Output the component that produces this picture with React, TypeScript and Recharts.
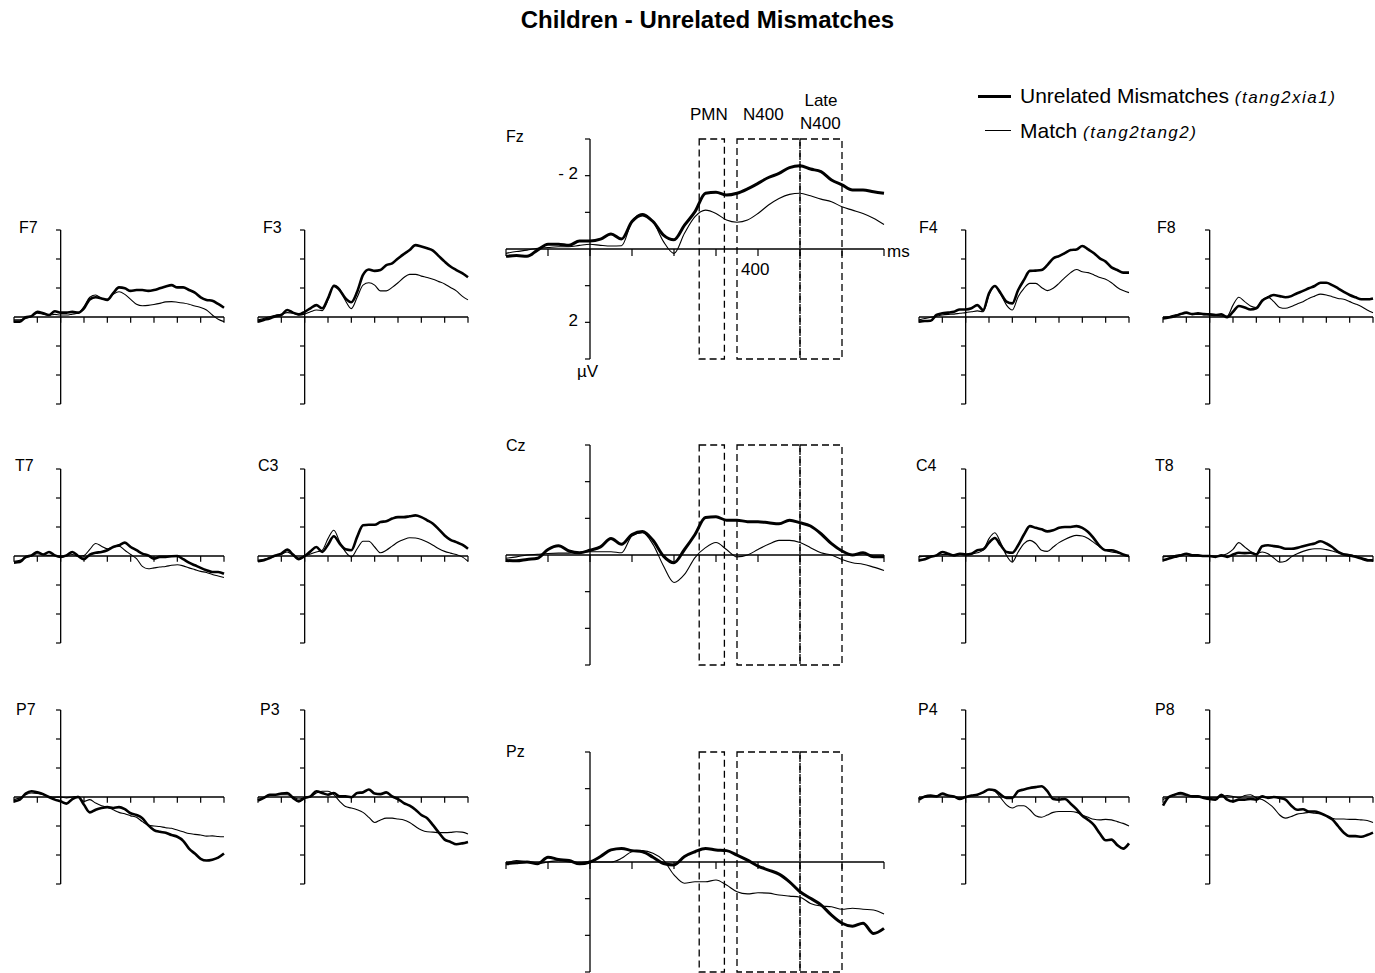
import { LineChart, Line, XAxis, YAxis, ReferenceLine, ReferenceArea } from "recharts";

// time points (ms)
const times = [
  -200, -175, -150, -125, -100, -75, -50, -25, 0, 25, 50, 75, 100, 125, 150, 175, 200, 225, 250,
  275, 300, 325, 350, 375, 400, 425, 450, 475, 500, 525, 550, 575, 600, 625, 650, 675, 700,
];

// amplitudes (µV, negative plotted up)
const f7Unrelated = [0.16, 0.16, 0.01, -0.03, -0.18, -0.13, -0.07, -0.2, -0.15, -0.15, -0.18, -0.15, -0.3, -0.61, -0.68, -0.64, -0.59, -0.82, -1.02, -0.99, -0.9, -0.93, -0.93, -0.9, -0.93, -0.99, -1.05, -1.1, -1.02, -1.02, -0.93, -0.84, -0.68, -0.59, -0.56, -0.45, -0.32];
const f7Match = [0.1, 0.1, 0.05, -0.03, -0.13, -0.1, -0.07, -0.09, -0.07, -0.07, -0.1, -0.13, -0.36, -0.68, -0.76, -0.64, -0.61, -0.78, -0.87, -0.78, -0.61, -0.44, -0.39, -0.4, -0.43, -0.47, -0.52, -0.53, -0.51, -0.48, -0.44, -0.38, -0.33, -0.24, -0.07, 0.08, 0.16];

const f3Unrelated = [0.16, 0.1, 0.05, -0.03, -0.07, -0.24, -0.15, -0.09, -0.18, -0.3, -0.41, -0.3, -0.64, -1.07, -0.93, -0.64, -0.51, -0.87, -1.45, -1.64, -1.59, -1.62, -1.79, -1.85, -2.02, -2.17, -2.31, -2.48, -2.43, -2.37, -2.29, -2.1, -1.91, -1.74, -1.62, -1.51, -1.37];
const f3Match = [0.1, 0.05, -0.01, -0.06, -0.09, -0.15, -0.13, -0.07, -0.1, -0.18, -0.24, -0.22, -0.59, -1.1, -0.97, -0.56, -0.29, -0.68, -1.1, -1.18, -1.1, -0.9, -0.9, -1.02, -1.18, -1.36, -1.47, -1.47, -1.41, -1.36, -1.3, -1.22, -1.14, -1.02, -0.9, -0.72, -0.59];

const fzUnrelated = [0.2, 0.18, 0.2, 0.03, -0.13, -0.13, -0.1, -0.22, -0.22, -0.27, -0.41, -0.27, -0.75, -0.93, -0.75, -0.38, -0.25, -0.65, -1.02, -1.52, -1.55, -1.47, -1.52, -1.64, -1.79, -1.95, -2.06, -2.22, -2.27, -2.18, -2.11, -1.88, -1.75, -1.61, -1.61, -1.56, -1.52];
const fzMatch = [0.12, 0.07, 0.03, -0.02, -0.04, -0.06, -0.06, -0.1, -0.13, -0.1, -0.08, -0.09, -0.75, -0.97, -0.75, -0.2, 0.12, -0.43, -0.88, -1.06, -0.97, -0.79, -0.73, -0.79, -0.97, -1.2, -1.38, -1.49, -1.52, -1.45, -1.36, -1.29, -1.15, -1.06, -0.97, -0.84, -0.67];

const f4Unrelated = [0.16, 0.14, 0.13, -0.07, -0.13, -0.15, -0.18, -0.26, -0.26, -0.3, -0.41, -0.24, -0.82, -1.07, -0.82, -0.53, -0.47, -0.93, -1.28, -1.59, -1.6, -1.62, -1.79, -2.02, -2.1, -2.2, -2.31, -2.33, -2.45, -2.33, -2.2, -2.02, -1.91, -1.71, -1.62, -1.53, -1.53];
const f4Match = [0.1, 0.05, 0.01, -0.03, -0.07, -0.09, -0.1, -0.13, -0.15, -0.18, -0.21, -0.18, -0.76, -1.07, -0.79, -0.41, -0.24, -0.7, -0.99, -1.16, -1.16, -1.02, -0.91, -0.99, -1.16, -1.36, -1.53, -1.64, -1.56, -1.53, -1.45, -1.36, -1.3, -1.18, -1.02, -0.91, -0.84];

const f8Unrelated = [0.05, 0.02, -0.03, -0.1, -0.15, -0.1, -0.13, -0.1, -0.09, -0.07, -0.09, 0.01, -0.18, -0.38, -0.33, -0.26, -0.3, -0.56, -0.68, -0.76, -0.72, -0.68, -0.72, -0.82, -0.9, -0.99, -1.07, -1.18, -1.18, -1.1, -0.99, -0.87, -0.76, -0.68, -0.61, -0.61, -0.64];
const f8Match = [0.01, -0.01, -0.07, -0.09, -0.13, -0.09, -0.09, -0.08, -0.07, -0.06, -0.03, -0.03, -0.41, -0.68, -0.53, -0.38, -0.33, -0.59, -0.68, -0.53, -0.33, -0.3, -0.36, -0.45, -0.53, -0.64, -0.72, -0.79, -0.76, -0.7, -0.64, -0.61, -0.53, -0.45, -0.36, -0.24, -0.15];

const t7Unrelated = [0.23, 0.21, 0.03, -0.02, -0.14, -0.05, -0.14, -0.02, 0.03, -0.02, -0.14, 0, 0.11, -0.05, -0.11, -0.14, -0.2, -0.31, -0.37, -0.46, -0.31, -0.2, -0.08, -0.02, 0.09, 0.03, 0.03, 0.01, 0, 0.11, 0.23, 0.32, 0.41, 0.49, 0.55, 0.55, 0.61];
const t7Match = [0.18, 0.15, 0.07, 0, -0.08, -0.05, -0.02, -0.02, 0.03, 0, -0.05, 0, -0.02, -0.23, -0.43, -0.34, -0.25, -0.31, -0.34, -0.2, -0.05, 0.09, 0.36, 0.44, 0.41, 0.38, 0.36, 0.32, 0.3, 0.34, 0.41, 0.47, 0.53, 0.57, 0.64, 0.69, 0.74];

const c3Unrelated = [0.18, 0.15, 0.07, -0.02, -0.08, -0.22, -0.05, 0.11, 0, -0.16, -0.31, -0.14, -0.39, -0.68, -0.43, -0.23, -0.2, -0.66, -1.06, -1.08, -1.08, -1.17, -1.2, -1.29, -1.34, -1.34, -1.37, -1.4, -1.34, -1.23, -1.11, -0.92, -0.71, -0.56, -0.48, -0.39, -0.25];
const c3Match = [0.15, 0.11, 0.07, 0, -0.06, -0.14, -0.02, 0.07, 0, -0.07, -0.14, -0.2, -0.6, -0.89, -0.49, -0.14, 0.03, -0.25, -0.51, -0.51, -0.31, -0.11, -0.2, -0.34, -0.48, -0.57, -0.63, -0.62, -0.57, -0.48, -0.37, -0.25, -0.16, -0.1, -0.05, 0.03, 0.18];

const czUnrelated = [0.15, 0.16, 0.12, 0.09, -0.15, -0.25, -0.11, -0.06, -0.13, -0.22, -0.45, -0.29, -0.56, -0.64, -0.4, 0.03, 0.21, -0.15, -0.56, -1.02, -1.04, -0.95, -0.95, -0.91, -0.91, -0.88, -0.85, -0.95, -0.88, -0.79, -0.58, -0.31, -0.11, 0, -0.06, 0.05, 0.05];
const czMatch = [0.09, 0.05, 0, -0.02, -0.04, -0.05, -0.05, -0.07, -0.09, -0.09, -0.09, -0.06, -0.52, -0.61, -0.29, 0.3, 0.75, 0.53, 0.07, -0.2, -0.34, -0.15, 0.05, 0, -0.15, -0.29, -0.4, -0.4, -0.34, -0.2, -0.06, 0, 0.12, 0.21, 0.25, 0.33, 0.42];

const c4Unrelated = [0.15, 0.11, 0.03, -0.02, -0.14, -0.08, -0.02, -0.08, -0.05, -0.08, -0.2, -0.23, -0.46, -0.62, -0.37, -0.14, -0.11, -0.37, -0.74, -1.03, -0.97, -0.92, -0.85, -0.89, -0.97, -1.0, -1.0, -1.03, -0.97, -0.83, -0.6, -0.34, -0.2, -0.2, -0.14, -0.05, 0];
const c4Match = [0.03, 0.01, 0, -0.02, -0.05, -0.05, -0.02, -0.05, -0.05, -0.07, -0.11, -0.2, -0.6, -0.8, -0.46, -0.02, 0.21, -0.14, -0.43, -0.54, -0.43, -0.2, -0.16, -0.31, -0.46, -0.57, -0.66, -0.71, -0.69, -0.6, -0.46, -0.31, -0.2, -0.14, -0.11, -0.05, 0.03];

const t8Unrelated = [0.15, 0.09, 0.03, -0.02, -0.08, -0.02, -0.02, 0, 0, 0.03, -0.02, 0.03, -0.05, -0.11, -0.1, -0.11, -0.05, -0.34, -0.37, -0.34, -0.31, -0.25, -0.25, -0.28, -0.34, -0.39, -0.43, -0.51, -0.43, -0.31, -0.14, -0.05, -0.02, 0.03, 0.09, 0.15, 0.15];
const t8Match = [0.03, 0.01, -0.02, -0.05, -0.06, -0.05, -0.02, 0, 0.01, 0.01, -0.02, -0.08, -0.23, -0.46, -0.31, -0.16, -0.08, -0.14, -0.08, 0.07, 0.21, 0.18, 0.03, -0.08, -0.16, -0.22, -0.25, -0.25, -0.22, -0.17, -0.11, -0.08, -0.05, 0, 0.06, 0.11, 0.18];

const p7Unrelated = [0.15, 0.09, -0.12, -0.2, -0.16, -0.1, 0, 0.09, 0.15, 0.23, 0.07, 0, 0.27, 0.53, 0.44, 0.38, 0.35, 0.38, 0.35, 0.42, 0.56, 0.62, 0.73, 0.97, 1.14, 1.2, 1.23, 1.31, 1.37, 1.51, 1.78, 1.95, 2.13, 2.19, 2.16, 2.09, 1.95];
const p7Match = [0.09, 0.03, -0.08, -0.14, -0.12, -0.08, -0.02, 0.01, 0, 0.03, 0, -0.02, 0.15, 0.09, 0.21, 0.3, 0.35, 0.44, 0.53, 0.58, 0.65, 0.7, 0.85, 0.97, 1.0, 1.02, 1.06, 1.08, 1.14, 1.2, 1.26, 1.29, 1.31, 1.35, 1.34, 1.36, 1.37];

const p3Unrelated = [0.12, 0.03, -0.08, -0.08, -0.12, -0.14, 0.03, 0.15, 0.03, -0.02, -0.2, -0.14, -0.08, -0.14, -0.02, -0.02, 0.01, -0.14, -0.16, -0.26, -0.12, -0.1, -0.16, -0.02, 0.07, 0.21, 0.3, 0.44, 0.62, 0.73, 0.97, 1.23, 1.47, 1.55, 1.63, 1.6, 1.55];
const p3Match = [0.09, 0.03, -0.05, -0.08, -0.08, -0.08, 0, 0.07, 0.03, 0, -0.14, -0.2, -0.2, -0.08, 0.15, 0.33, 0.38, 0.44, 0.53, 0.7, 0.88, 0.79, 0.73, 0.73, 0.76, 0.79, 0.88, 1.02, 1.14, 1.2, 1.21, 1.23, 1.23, 1.22, 1.2, 1.21, 1.28];

const pzUnrelated = [0.05, 0.02, 0, 0.05, -0.13, -0.07, -0.04, 0.05, 0, -0.15, -0.33, -0.37, -0.31, -0.28, -0.13, 0.04, 0.08, -0.15, -0.28, -0.37, -0.33, -0.31, -0.19, -0.05, 0.11, 0.22, 0.33, 0.54, 0.81, 0.99, 1.17, 1.45, 1.67, 1.75, 1.67, 1.95, 1.81];
const pzMatch = [0.04, -0.04, 0, 0.04, 0, -0.04, 0, 0.02, 0, 0, 0, -0.1, -0.28, -0.31, -0.24, -0.05, 0.35, 0.58, 0.54, 0.54, 0.49, 0.63, 0.81, 0.87, 0.84, 0.85, 0.9, 0.93, 0.96, 1.13, 1.2, 1.22, 1.29, 1.26, 1.29, 1.31, 1.42];

const p4Unrelated = [0.09, -0.02, -0.05, -0.02, -0.12, -0.05, -0.02, 0.07, 0, -0.05, -0.08, -0.16, -0.26, -0.23, -0.08, 0.03, 0.03, -0.2, -0.26, -0.31, -0.34, -0.37, -0.2, 0.07, 0.09, 0.07, 0.23, 0.42, 0.65, 0.79, 0.97, 1.26, 1.49, 1.47, 1.66, 1.78, 1.6];
const p4Match = [0.07, 0, -0.02, -0.05, -0.08, -0.05, 0, 0.03, 0, -0.05, -0.08, -0.16, -0.26, -0.2, 0.03, 0.27, 0.38, 0.3, 0.3, 0.44, 0.65, 0.7, 0.62, 0.53, 0.5, 0.5, 0.5, 0.53, 0.62, 0.7, 0.77, 0.79, 0.77, 0.79, 0.85, 0.91, 1.0];

const p8Unrelated = [0.3, 0, -0.08, -0.14, -0.08, -0.02, -0.02, 0.03, 0.07, 0.09, -0.08, 0.09, 0.15, 0.09, 0.09, 0.07, 0.09, -0.02, 0.03, 0, 0.03, 0.09, 0.3, 0.44, 0.42, 0.5, 0.5, 0.56, 0.65, 0.77, 1.0, 1.23, 1.35, 1.35, 1.37, 1.31, 1.23];
const p8Match = [0.09, 0, -0.08, -0.08, -0.06, -0.02, 0, 0.01, 0.03, 0.03, -0.02, -0.05, -0.02, 0.03, -0.05, -0.08, 0.03, 0.09, 0.21, 0.38, 0.62, 0.73, 0.67, 0.59, 0.56, 0.53, 0.56, 0.58, 0.65, 0.73, 0.76, 0.76, 0.77, 0.77, 0.79, 0.81, 0.88];

const timeTicks = [-200, -100, 0, 100, 200, 300, 400, 500, 600, 700];
const voltTicks = [-3, -2, -1, 1, 2, 3];
// analysis windows (ms)
const windows = [
  [260, 320],
  [350, 500],
  [500, 600],
];

const FONT = '"Liberation Sans", Arial, sans-serif';
const M = 6;

type PanelProps = {
  name: string;
  left: number;
  top: number;
  w: number;
  h: number;
  labelX: number;
  labelY: number;
  unrel: number[];
  match: number[];
  big?: boolean;
};

function Panel({ name, left, top, w, h, labelX, labelY, unrel, match, big }: PanelProps) {
  const data = times.map((t, i) => ({ t, unrel: unrel[i], match: match[i] }));
  const xTick = big ? 0.19 : 0.2;
  const yTick = big ? 12 : 20;
  return (
    <>
      <div style={{ position: "absolute", left: left - M, top: top - M }}>
        <LineChart width={w + 2 * M} height={h + 2 * M} data={data} margin={{ top: M, right: M, bottom: M, left: M }}>
          <XAxis type="number" dataKey="t" domain={[-200, 700]} hide />
          <YAxis type="number" domain={[-3, 3]} reversed hide />
          {big &&
            windows.map(([a, b]) => (
              <ReferenceArea
                key={a}
                x1={a}
                x2={b}
                y1={-3}
                y2={3}
                fill="none"
                fillOpacity={0}
                stroke="#000"
                strokeWidth={1.3}
                strokeDasharray="7 4"
              />
            ))}
          <ReferenceLine y={0} stroke="#000" strokeWidth={1.3} />
          <ReferenceLine x={0} stroke="#000" strokeWidth={1.3} />
          {timeTicks.map((t) => (
            <ReferenceLine key={"x" + t} segment={[{ x: t, y: 0 }, { x: t, y: xTick }]} stroke="#000" strokeWidth={1.2} />
          ))}
          {voltTicks.map((v) => (
            <ReferenceLine key={"y" + v} segment={[{ x: -yTick, y: v }, { x: 0, y: v }]} stroke="#000" strokeWidth={1.2} />
          ))}
          <Line dataKey="match" type="monotone" stroke="#000" strokeWidth={1.1} dot={false} isAnimationActive={false} />
          <Line dataKey="unrel" type="monotone" stroke="#000" strokeWidth={big ? 3 : 2.6} dot={false} isAnimationActive={false} />
        </LineChart>
      </div>
      <div style={{ position: "absolute", left: labelX, top: labelY - 9, fontSize: 16, lineHeight: "18px" }}>{name}</div>
    </>
  );
}

const SMALL = { w: 210, h: 174 };
const BIG = { w: 378, h: 220 };

const panels: PanelProps[] = [
  { name: "F7", left: 14, top: 230, ...SMALL, labelX: 19, labelY: 228, unrel: f7Unrelated, match: f7Match },
  { name: "F3", left: 258, top: 230, ...SMALL, labelX: 263, labelY: 228, unrel: f3Unrelated, match: f3Match },
  { name: "Fz", left: 506, top: 139, ...BIG, labelX: 506, labelY: 137, unrel: fzUnrelated, match: fzMatch, big: true },
  { name: "F4", left: 919, top: 230, ...SMALL, labelX: 919, labelY: 228, unrel: f4Unrelated, match: f4Match },
  { name: "F8", left: 1163, top: 230, ...SMALL, labelX: 1157, labelY: 228, unrel: f8Unrelated, match: f8Match },
  { name: "T7", left: 14, top: 469, ...SMALL, labelX: 15, labelY: 466, unrel: t7Unrelated, match: t7Match },
  { name: "C3", left: 258, top: 469, ...SMALL, labelX: 258, labelY: 466, unrel: c3Unrelated, match: c3Match },
  { name: "Cz", left: 506, top: 445, ...BIG, labelX: 506, labelY: 446, unrel: czUnrelated, match: czMatch, big: true },
  { name: "C4", left: 919, top: 469, ...SMALL, labelX: 916, labelY: 466, unrel: c4Unrelated, match: c4Match },
  { name: "T8", left: 1163, top: 469, ...SMALL, labelX: 1155, labelY: 466, unrel: t8Unrelated, match: t8Match },
  { name: "P7", left: 14, top: 710, ...SMALL, labelX: 16, labelY: 710, unrel: p7Unrelated, match: p7Match },
  { name: "P3", left: 258, top: 710, ...SMALL, labelX: 260, labelY: 710, unrel: p3Unrelated, match: p3Match },
  { name: "Pz", left: 506, top: 752, ...BIG, labelX: 506, labelY: 752, unrel: pzUnrelated, match: pzMatch, big: true },
  { name: "P4", left: 919, top: 710, ...SMALL, labelX: 918, labelY: 710, unrel: p4Unrelated, match: p4Match },
  { name: "P8", left: 1163, top: 710, ...SMALL, labelX: 1155, labelY: 710, unrel: p8Unrelated, match: p8Match },
];

const abs = (left: number, top: number, extra: any = {}) => ({ position: "absolute" as const, left, top, ...extra });

export default function App() {
  return (
    <div style={{ position: "absolute", left: 0, top: 0, width: 1375, height: 973, background: "#fff", fontFamily: FONT, color: "#000", overflow: "hidden" }}>
      <div style={abs(0, 5, { width: 1415, textAlign: "center", fontSize: 24, fontWeight: "bold", lineHeight: "30px" })}>
        Children - Unrelated Mismatches
      </div>

      {panels.map((p) => (
        <Panel key={p.name} {...p} />
      ))}

      {/* window labels */}
      <div style={abs(690, 105, { fontSize: 17, lineHeight: "20px" })}>PMN</div>
      <div style={abs(743, 105, { fontSize: 17, lineHeight: "20px" })}>N400</div>
      <div style={abs(802, 91, { fontSize: 17, lineHeight: "20px", width: 38, textAlign: "center" })}>Late</div>
      <div style={abs(800, 114, { fontSize: 17, lineHeight: "20px" })}>N400</div>

      {/* Fz axis labels */}
      <div style={abs(554, 164, { fontSize: 17, lineHeight: "20px", width: 24, textAlign: "right" })}>- 2</div>
      <div style={abs(554, 311, { fontSize: 17, lineHeight: "20px", width: 24, textAlign: "right" })}>2</div>
      <div style={abs(577, 362, { fontSize: 17, lineHeight: "20px" })}>µV</div>
      <div style={abs(741, 260, { fontSize: 17, lineHeight: "20px" })}>400</div>
      <div style={abs(887, 242, { fontSize: 17, lineHeight: "20px" })}>ms</div>

      {/* legend */}
      <div style={abs(978, 95, { width: 33, height: 3, background: "#000" })} />
      <div style={abs(1020, 83, { fontSize: 21, lineHeight: "26px", whiteSpace: "nowrap" })}>
        Unrelated Mismatches <span style={{ fontSize: 17, fontStyle: "italic", letterSpacing: 1.5 }}>(tang2xia1)</span>
      </div>
      <div style={abs(985, 130, { width: 26, height: 1, background: "#000" })} />
      <div style={abs(1020, 118, { fontSize: 21, lineHeight: "26px", whiteSpace: "nowrap" })}>
        Match <span style={{ fontSize: 17, fontStyle: "italic", letterSpacing: 1.5 }}>(tang2tang2)</span>
      </div>
    </div>
  );
}
